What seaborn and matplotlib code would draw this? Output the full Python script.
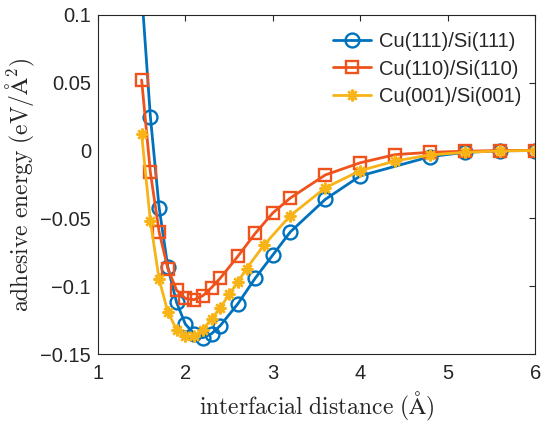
import matplotlib
matplotlib.use("Agg")
import matplotlib.pyplot as plt
import seaborn as sns
import pandas as pd

# ---- data ----
x_111 = [1.5, 1.6, 1.7, 1.8, 1.9, 2.0, 2.1, 2.2, 2.3, 2.4, 2.6, 2.8, 3.0, 3.2, 3.6, 4.0, 4.8, 5.2, 5.6, 6.0]
y_111 = [0.117, 0.025, -0.042, -0.086, -0.112, -0.128, -0.135, -0.138, -0.135, -0.129, -0.113, -0.094,
         -0.077, -0.060, -0.036, -0.0187, -0.0045, -0.0013, -0.0002, 0.0]

x_110 = [1.5, 1.6, 1.7, 1.8, 1.9, 2.0, 2.1, 2.2, 2.3, 2.4, 2.6, 2.8, 3.0, 3.2, 3.6, 4.0, 4.4, 4.8, 5.2, 5.6, 6.0]
y_110 = [0.052, -0.016, -0.060, -0.087, -0.103, -0.109, -0.110, -0.107, -0.101, -0.094, -0.078, -0.061,
         -0.046, -0.035, -0.018, -0.009, -0.003, -0.0013, -0.0005, 0.0, 0.0]

x_001 = [1.5, 1.6, 1.7, 1.8, 1.9, 2.0, 2.1, 2.2, 2.3, 2.4, 2.5, 2.6, 2.7, 2.9, 3.2, 3.6, 4.0, 4.4, 4.8, 5.2, 5.6, 6.0]
y_001 = [0.012, -0.052, -0.095, -0.119, -0.132, -0.137, -0.137, -0.132, -0.124, -0.116, -0.106, -0.097,
         -0.087, -0.0696, -0.048, -0.0275, -0.0148, -0.0077, -0.0032, -0.0013, -0.0003, 0.0]

labels = ["Cu(111)/Si(111)", "Cu(110)/Si(110)", "Cu(001)/Si(001)"]
colors = ["#0072BD", "#F0521C", "#F8B317"]
markers = ["o", "s", (8, 2, 0)]

x_ticks = [1, 2, 3, 4, 5, 6]
y_ticks = [-0.15, -0.1, -0.05, 0, 0.05, 0.1]
y_ticklabels = ["\u22120.15", "\u22120.1", "\u22120.05", "0", "0.05", "0.1"]

sns.set_style("white")
plt.rcParams["font.family"] = ["Liberation Sans", "DejaVu Sans"]
plt.rcParams["mathtext.fontset"] = "cm"

fig = plt.figure(figsize=(5.5, 4.25), dpi=100)
ax = fig.add_axes([0.178, 0.167, 0.795, 0.798])

series = [(x_111, y_111), (x_110, y_110), (x_001, y_001)]
msizes = [10, 8.5, 8.5]
for (xs, ys), lab, col, mk, ms in zip(series, labels, colors, markers, msizes):
    df = pd.DataFrame({"x": xs, "y": ys})
    sns.lineplot(data=df, x="x", y="y", ax=ax, color=col, label=lab,
                 marker=mk, markersize=ms, markerfacecolor="none",
                 markeredgecolor=col, markeredgewidth=1.7, linewidth=2.0,
                 sort=False, estimator=None)

ax.set_xlim(1, 6)
ax.set_ylim(-0.15, 0.1)
ax.set_xticks(x_ticks)
ax.set_xticklabels([str(t) for t in x_ticks])
ax.set_yticks(y_ticks)
ax.set_yticklabels(y_ticklabels)
ax.tick_params(direction="in", length=4, width=0.8, labelsize=14.5, colors="#262626",
               top=True, right=True, pad=5)
ax.tick_params(axis="x", pad=7)
for sp in ax.spines.values():
    sp.set_color("#262626")
    sp.set_linewidth(0.8)

ax.set_xlabel(r"$\mathrm{interfacial\ distance\ (\AA)}$", fontsize=17, labelpad=5)
ax.set_ylabel(r"$\mathrm{adhesive\ energy\ (eV/\AA^2)}$", fontsize=17, labelpad=2)

leg = ax.legend(loc="upper right", frameon=False, fontsize=14.5, handlelength=1.9,
                handletextpad=0.4, labelspacing=0.42, borderaxespad=0.2,
                bbox_to_anchor=(0.997, 0.985))

fig.savefig("out.png", dpi=100)
